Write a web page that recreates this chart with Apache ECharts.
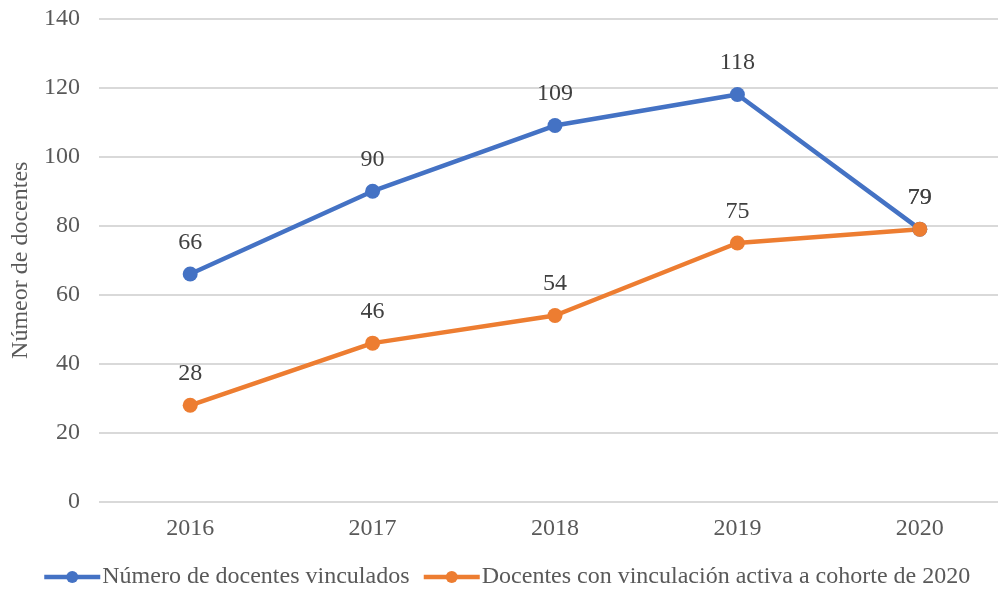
<!DOCTYPE html>
<html>
<head>
<meta charset="utf-8">
<script src="https://cdn.jsdelivr.net/npm/echarts@6/dist/echarts.min.js"></script>
<style>html,body{margin:0;padding:0;background:#fff;}#c{width:998px;height:594px;}</style>
</head>
<body>
<div id="c"></div>
<script>
const categories = ['2016', '2017', '2018', '2019', '2020'];
const vinculados = [66, 90, 109, 118, 79];
const activos = [28, 46, 54, 75, 79];
const seriesNames = ['Número de docentes vinculados', 'Docentes con vinculación activa a cohorte de 2020'];
const yAxisName = 'Númeor de docentes';

const font = '"Liberation Serif", "Times New Roman", serif';
const chart = echarts.init(document.getElementById('c'), null, {renderer: 'canvas'});
function mk(name, data, color) {
  return {
    name: name, type: 'line', data: data,
    symbol: 'circle', symbolSize: 15,
    lineStyle: {width: 4.5, color: color},
    itemStyle: {color: color},
    label: {show: true, position: 'top', distance: 12, color: '#404040', fontFamily: font, fontSize: 24},
    emphasis: {disabled: true},
    animation: false
  };
}
chart.setOption({
  animation: false,
  grid: {left: 99, right: -13, top: 18.5, bottom: 92, containLabel: false, outerBoundsMode: 'none'},
  legend: {
    bottom: 0, left: 37, itemWidth: 56, itemHeight: 15, itemGap: 12,
    lineStyle: {width: 4.5},
    textStyle: {color: '#595959', fontFamily: font, fontSize: 24, padding: [0, 0, 0, -3]},
    data: seriesNames
  },
  xAxis: {
    type: 'category', data: categories, boundaryGap: true,
    axisLine: {show: false}, axisTick: {show: false},
    axisLabel: {color: '#595959', fontFamily: font, fontSize: 24, margin: 15}
  },
  yAxis: {
    type: 'value', min: 0, max: 140, interval: 20,
    name: yAxisName, nameLocation: 'middle', nameGap: 66, nameRotate: 90,
    nameTextStyle: {color: '#595959', fontFamily: font, fontSize: 24},
    axisLine: {show: false}, axisTick: {show: false},
    axisLabel: {color: '#595959', fontFamily: font, fontSize: 24, margin: 19},
    splitLine: {lineStyle: {color: '#d9d9d9', width: 2}}
  },
  series: [mk(seriesNames[0], vinculados, '#4472C4'), mk(seriesNames[1], activos, '#ED7D31')]
});
</script>
</body>
</html>
